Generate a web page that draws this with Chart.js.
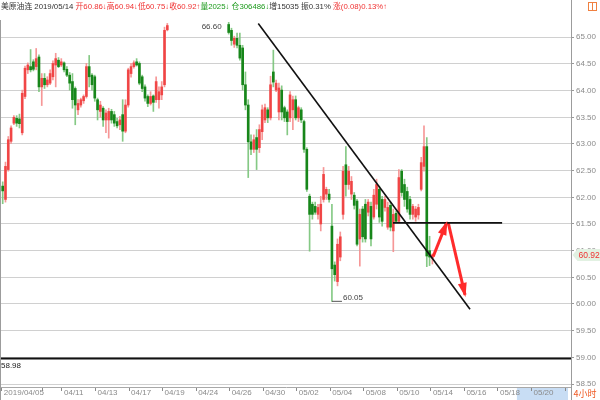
<!DOCTYPE html>
<html>
<head>
<meta charset="utf-8">
<script src="https://cdn.jsdelivr.net/npm/chart.js@4.4.0/dist/chart.umd.min.js"></script>
<style>
  body { margin: 0; background: #fff; }
  #wrap { position: relative; width: 600px; height: 400px; }
  #head { position: absolute; left: 1px; top: 1px; line-height: 11px; font-size: 7.8px;
          font-family: "Liberation Sans", "Noto Sans CJK SC", sans-serif; color: #333; white-space: nowrap; }
  .up { color: #f03232; }
  .dn { color: #1c9a1c; }
</style>
</head>
<body>
<div id="wrap">
  <canvas id="kline" width="600" height="400"></canvas>
  <div id="head">美原油连 2019/05/14 <span class="up">开60.86↓高60.94↓低60.75↓收60.92↑</span><span class="dn">量2025↓ 仓306486↓</span>增15035 振0.31% <span class="up">涨(0.08)0.13%↑</span></div>
</div>
<script>
// 4h candles, first block starts at slot 0, second block after the data gap
const seg1Start = 0
const seg2Start = 81

const open1 = [62.21,61.96,62.52,63.05,63.39,63.48,63.47,63.21,63.89,64.39,
  64.45,64.54,64.45,64.63,64.07,64.23,64.11,64.14,64.26,64.48,
  64.57,64.48,64.52,64.40,64.29,64.17,64.04,63.64,63.73,63.81,
  63.89,64.45,64.29,64.26,63.83,63.61,63.67,63.45,63.45,63.61,
  63.55,63.42,63.36,63.55,63.24,63.73,64.32,64.45,64.54,64.51,
  64.26,64.07,63.89,63.76,63.90,63.83,63.83,63.92,64.11,65.14]
const high1 = [62.29,62.66,63.14,63.34,63.53,63.53,63.56,64.01,64.46,64.52,
  64.77,64.58,64.79,64.67,64.32,64.32,64.26,64.39,64.56,64.70,
  64.62,64.60,64.54,64.45,64.34,64.32,64.07,63.83,63.86,63.92,
  64.51,64.66,64.32,64.29,63.86,63.80,63.70,63.64,63.67,63.65,
  63.61,63.48,63.52,63.83,63.83,64.42,64.51,64.56,64.60,64.54,
  64.29,64.11,63.92,63.98,63.92,64.26,64.07,64.17,65.19,65.26]
const low1 = [61.88,61.91,62.49,63.01,63.36,63.33,63.30,63.17,63.85,64.32,
  64.35,64.37,64.39,63.98,63.72,64.04,64.07,64.11,64.20,64.07,
  64.43,64.45,64.35,64.26,64.01,63.67,63.36,63.55,63.69,63.76,
  63.86,64.07,64.01,63.80,63.45,63.50,63.33,63.21,63.11,63.39,
  63.33,63.30,63.27,63.05,63.21,63.69,64.25,64.42,64.46,64.11,
  63.98,63.80,63.70,63.73,63.61,63.78,63.67,63.83,64.07,65.12]
const close1 = [62.12,62.58,63.08,63.30,63.50,63.39,63.38,63.95,64.42,64.48,
  64.39,64.40,64.60,64.07,64.23,64.11,64.20,64.32,64.51,64.60,
  64.45,64.54,64.39,64.29,64.14,63.83,63.73,63.76,63.83,63.89,
  64.45,64.26,64.11,63.86,63.64,63.73,63.45,63.58,63.61,63.45,
  63.39,63.34,63.45,63.24,63.73,64.39,64.45,64.52,64.48,64.14,
  64.04,63.86,63.76,63.89,63.78,64.17,63.98,64.07,65.13,65.22]

const open2 = [65.24,65.13,64.87,64.98,64.85,64.80,64.11,63.73,63.04,62.90,
  63.12,62.93,63.23,63.45,63.64,63.49,64.35,64.01,63.60,64.01,
  63.68,63.60,63.49,63.64,63.83,63.49,63.64,63.42,62.90,62.02,
  61.87,61.83,61.68,61.50,61.96,62.06,62.06,61.46,60.73,60.42,
  60.88,61.68,62.61,62.24,62.06,62.04,61.93,61.22,61.78,61.87,
  61.72,61.83,61.63,61.87,62.15,61.96,61.81,61.44,61.85,61.37,
  61.70,61.55,62.49,62.24,62.11,61.96,61.68,61.63,61.67,62.15,
  62.58,62.95,61.00,60.86]
const high2 = [65.28,65.17,65.02,65.08,65.08,64.85,64.35,63.83,63.17,63.17,
  63.27,63.36,63.73,63.75,63.68,64.27,64.76,64.20,64.14,64.09,
  63.71,63.64,63.98,63.90,63.90,63.71,63.68,63.45,62.93,62.06,
  61.91,61.91,61.87,62.02,62.56,62.19,62.15,61.87,60.79,61.22,
  61.35,62.58,62.95,62.58,62.39,62.09,61.96,61.78,61.83,61.96,
  61.96,61.91,62.15,62.34,62.21,62.02,62.02,61.91,61.91,61.78,
  61.74,62.52,62.52,62.34,62.19,62.02,61.87,61.83,61.87,62.75,
  63.34,63.12,61.27,60.94]
const low2 = [65.06,64.85,64.81,64.80,64.57,64.01,63.64,62.37,62.80,62.84,
  62.52,62.84,63.08,63.40,63.40,63.45,64.07,63.98,63.45,63.45,
  63.42,63.17,63.42,63.27,63.45,63.42,63.40,62.84,62.11,60.99,
  61.59,61.68,61.59,61.37,61.91,61.96,61.91,60.05,60.43,60.34,
  60.81,61.59,62.02,62.15,61.96,61.78,61.09,60.71,61.16,61.16,
  61.65,61.09,61.59,61.78,61.53,61.46,61.74,61.40,61.37,60.98,
  61.53,61.53,62.02,61.83,61.72,61.59,61.59,61.55,61.59,62.12,
  62.49,60.70,60.72,60.75]
const close2 = [65.09,64.94,64.98,64.85,64.61,64.11,63.73,63.04,62.90,63.08,
  62.90,63.27,63.64,63.68,63.49,64.11,64.16,64.14,64.05,63.60,
  63.49,63.42,63.92,63.83,63.49,63.68,63.45,62.90,62.15,61.68,
  61.68,61.72,61.81,61.87,62.43,62.15,61.96,60.66,60.55,61.12,
  61.26,62.49,62.24,62.49,62.30,61.85,61.12,61.68,61.26,61.22,
  61.91,61.22,62.04,62.24,61.63,61.55,61.96,61.81,61.44,61.68,
  61.55,62.37,62.09,61.96,61.78,61.68,61.83,61.78,61.81,62.65,
  62.95,60.90,60.88,60.92]

const tickLabels = ['2019/04/05', '', '04/11', '04/13', '04/17', '04/19', '04/24', '04/26', '04/30',
  '05/02', '05/04', '05/08', '05/10', '05/14', '05/16', '05/18', '05/20', '']
const yTicks = [58.5, 59, 59.5, 60, 60.5, 61, 61.5, 62, 62.5, 63, 63.5, 64, 64.5, 65]

// drawn lines: [slot, price]
const trendLine = [[91.6, 65.26], [167.5, 59.90]]
const supportLine = [[139.9, 61.52], [179, 61.52]]
const arrowUp = [[154.3, 60.89], [159.1, 61.52]]
const arrowDown = [[159.7, 61.52], [165.7, 60.17]]
const lowMark = [[118, 60.05], [121.6, 60.05]]
const baseLevel = 58.98
const lastPrice = 60.92
const highText = '66.60'

const xMin = -0.61
const xMax = 203.69
const yMin = 58.444
const yMax = 65.324

const tickSlots = [-0.3, 14.1]
for (let k = 0; k < 16; k++) tickSlots.push(21.25 + 12.02 * k)

const slots = []
for (let i = 0; i < open1.length; i++) slots.push(seg1Start + i)
for (let i = 0; i < open2.length; i++) slots.push(seg2Start + i)
const opens = open1.concat(open2)
const highs = high1.concat(high2)
const lows = low1.concat(low2)
const closes = close1.concat(close2)

const isUp = opens.map((o, i) => closes[i] >= o)
const bodyColors = isUp.map(u => u ? "rgba(240,60,60,0.9)" : "#17861a")
const wickColors = isUp.map(u => u ? "rgba(245,140,140,0.9)" : "rgba(120,195,120,0.9)")

const toPts = arr => arr.map(p => ({ x: p[0], y: p[1] }))

function lineSet(points, color, width, extra) {
  return Object.assign({
    type: 'line',
    data: toPts(points),
    borderColor: color,
    backgroundColor: color,
    borderWidth: width,
    pointRadius: 0,
    fill: false,
    tension: 0,
    order: 0
  }, extra || {})
}

const overlay = {
  id: 'overlay',
  beforeDraw(chart) {
    const { ctx, chartArea } = chart
    const x = chart.scales.x
    ctx.save()
    ctx.fillStyle = "#c8ddf4"
    const x0 = x.getPixelForValue(184.3)
    ctx.fillRect(x0, chartArea.bottom + 1, chartArea.right - 3 - x0, 13)
    ctx.restore()
  },
  afterDatasetsDraw(chart) {
    const ctx = chart.ctx
    chart.data.datasets.forEach((ds, i) => {
      if (!ds.arrowHead) return
      const pts = chart.getDatasetMeta(i).data
      const p0 = pts[pts.length - 2]
      const p1 = pts[pts.length - 1]
      const a = Math.atan2(p1.y - p0.y, p1.x - p0.x)
      const len = 12, half = 4.5
      const bx = p1.x - len * Math.cos(a), by = p1.y - len * Math.sin(a)
      ctx.save()
      ctx.fillStyle = ds.borderColor
      ctx.beginPath()
      ctx.moveTo(p1.x + 2 * Math.cos(a), p1.y + 2 * Math.sin(a))
      ctx.lineTo(bx + half * Math.sin(a), by - half * Math.cos(a))
      ctx.lineTo(bx - half * Math.sin(a), by + half * Math.cos(a))
      ctx.closePath()
      ctx.fill()
      ctx.restore()
    })
  },
  afterDraw(chart) {
    const { ctx, chartArea } = chart
    const x = chart.scales.x
    const y = chart.scales.y
    ctx.save()
    // frame
    ctx.strokeStyle = "#9c9c9c"
    ctx.lineWidth = 1
    const rx = Math.round(chartArea.right) + 0.5
    ctx.beginPath()
    ctx.moveTo(rx, 0); ctx.lineTo(rx, 400)
    ctx.moveTo(0.5, chartArea.top); ctx.lineTo(0.5, 400)
    ctx.stroke()

    ctx.font = '8px "Liberation Sans"'
    ctx.fillStyle = "#444"
    // highest price note
    ctx.textAlign = 'right'
    ctx.textBaseline = 'middle'
    ctx.fillText(highText, x.getPixelForValue(seg2Start) - 7, chartArea.top + 7)
    // lowest price note
    ctx.textAlign = 'left'
    ctx.textBaseline = 'alphabetic'
    ctx.fillText(lowMark[0][1].toFixed(2), x.getPixelForValue(lowMark[1][0]) + 1, y.getPixelForValue(lowMark[0][1]) - 1)
    // base level note
    ctx.fillStyle = "#222"
    ctx.fillText(baseLevel.toFixed(2), 1, y.getPixelForValue(baseLevel) + 10)

    // last price tag on the axis
    const ty = y.getPixelForValue(lastPrice)
    ctx.fillStyle = "#e2f1e2"
    ctx.beginPath()
    ctx.moveTo(rx + 1, ty)
    ctx.lineTo(rx + 6, ty - 6)
    ctx.lineTo(600, ty - 6)
    ctx.lineTo(600, ty + 6)
    ctx.lineTo(rx + 6, ty + 6)
    ctx.closePath()
    ctx.fill()
    ctx.fillStyle = "#f03232"
    ctx.font = '8.5px "Liberation Sans"'
    ctx.textBaseline = 'middle'
    ctx.fillText(lastPrice.toFixed(2), rx + 7, ty + 1)

    // period label
    ctx.fillStyle = "#ef5a24"
    ctx.font = '9px "Noto Sans CJK SC"'
    ctx.fillText('4小时', rx + 2, chartArea.bottom + 7)

    // small window icon
    ctx.strokeStyle = "#f08040"
    ctx.strokeRect(588.5, 2.5, 8, 8)
    ctx.beginPath()
    ctx.moveTo(592.5, 2.5); ctx.lineTo(592.5, 10.5)
    ctx.stroke()
    ctx.restore()
  }
}

Chart.defaults.font.family = '"Liberation Sans", "Noto Sans CJK SC", sans-serif'

const ctx = document.getElementById('kline').getContext('2d')
const myChart = new Chart(ctx, {
  type: 'bar',
  data: {
    datasets: [
      lineSet(trendLine, "#111", 1.6),
      lineSet(supportLine, "#111", 1.6),
      lineSet(arrowUp, "#ff2b2b", 3, { arrowHead: true }),
      lineSet(arrowDown, "#ff2b2b", 3, { arrowHead: true }),
      lineSet(lowMark, "#555", 1),
      lineSet([[xMin, baseLevel], [xMax, baseLevel]], "#111", 2),
      {
        type: 'bar',
        label: 'body',
        data: slots.map((s, i) => ({ x: s, y: [opens[i], closes[i]] })),
        backgroundColor: bodyColors,
        barThickness: 2,
        minBarLength: 1,
        grouped: false,
        borderWidth: 0,
        borderSkipped: false,
        order: 1
      },
      {
        type: 'bar',
        label: 'wick',
        data: slots.map((s, i) => ({ x: s, y: [lows[i], highs[i]] })),
        backgroundColor: wickColors,
        barThickness: 1,
        grouped: false,
        borderWidth: 0,
        borderSkipped: false,
        order: 2
      }
    ]
  },
  options: {
    responsive: false,
    animation: false,
    layout: { padding: { top: 20, left: 1, right: 0, bottom: 0 } },
    plugins: {
      legend: { display: false },
      tooltip: { enabled: false }
    },
    scales: {
      x: {
        type: 'linear',
        min: xMin,
        max: xMax,
        offset: false,
        afterFit: s => { s.height = 13 },
        afterBuildTicks: s => { s.ticks = tickSlots.map(v => ({ value: v })) },
        grid: { offset: false, drawOnChartArea: false, tickLength: 4, color: "#8a8a8a" },
        border: { color: "#a8a8a8" },
        ticks: {
          autoSkip: false,
          maxRotation: 0,
          align: 'start',
          padding: -3,
          labelOffset: 2,
          color: "#8a8a8a",
          font: { size: 8 },
          callback: (v, i) => tickLabels[i]
        }
      },
      y: {
        position: 'right',
        min: yMin,
        max: yMax,
        afterFit: s => { s.width = 29 },
        afterBuildTicks: s => { s.ticks = yTicks.map(v => ({ value: v })) },
        grid: { color: "#d0d0d0", tickLength: 3, tickColor: "#999" },
        border: { display: false },
        ticks: {
          padding: 2,
          color: "#8a8a8a",
          font: { size: 8 },
          callback: v => v.toFixed(2)
        }
      }
    }
  },
  plugins: [overlay]
})
</script>
</body>
</html>
